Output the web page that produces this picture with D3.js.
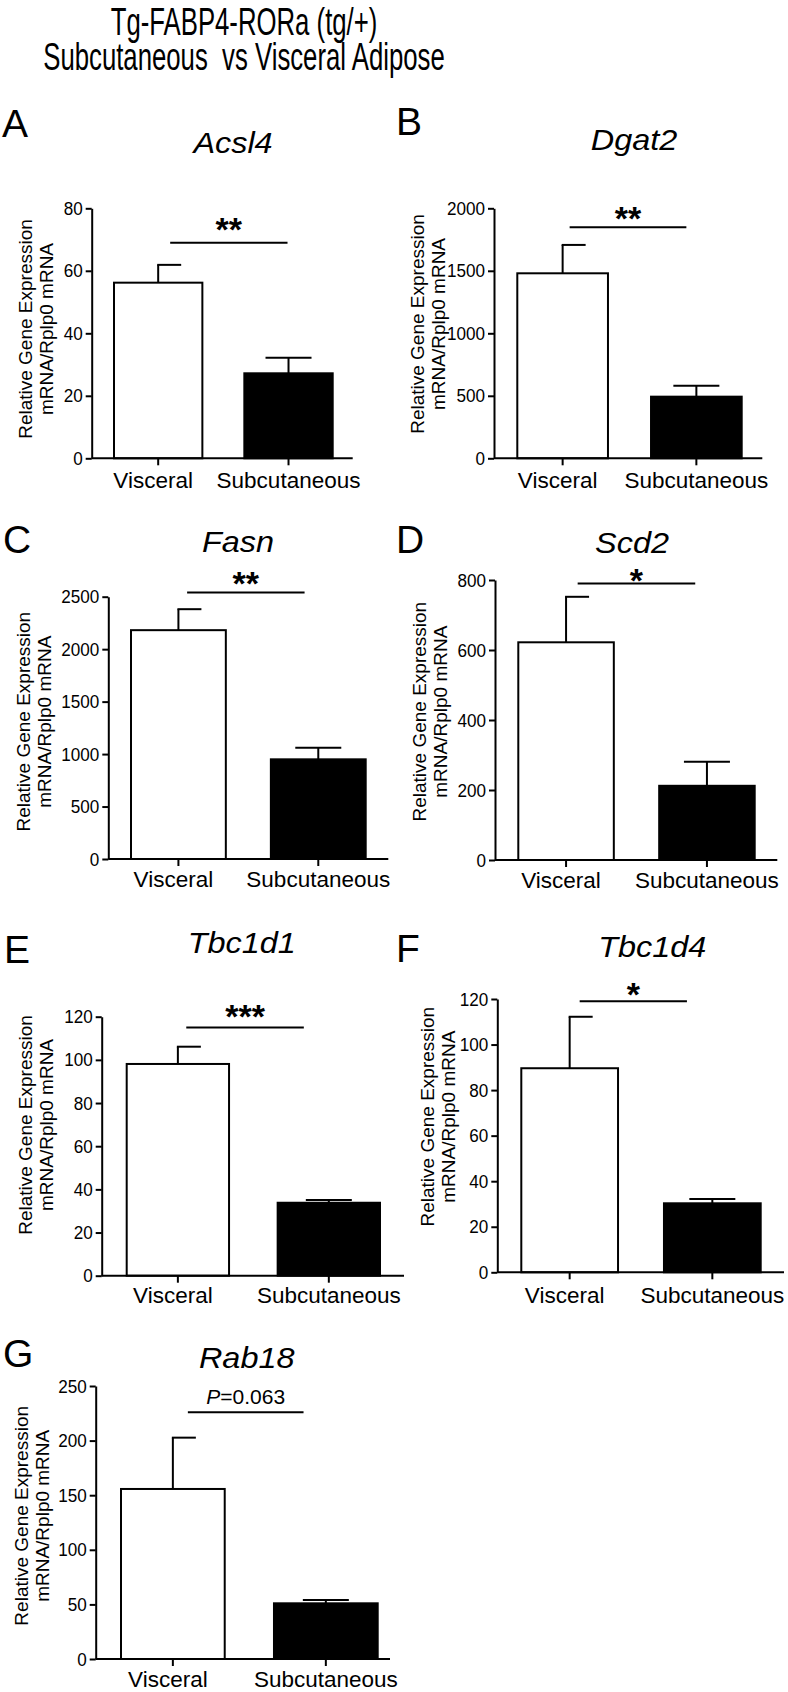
<!DOCTYPE html>
<html><head><meta charset="utf-8">
<script src="https://cdn.jsdelivr.net/npm/d3@7"></script>
<style>
body{margin:0;background:#fff;}
svg{display:block;}
text{font-family:"Liberation Sans",Arial,Helvetica,sans-serif;fill:#000;}
text.title{white-space:pre;}
</style></head><body>
<svg id="fig" width="788" height="1692"></svg>
<script>
// ---------------- data ----------------
const titleLines = ["Tg-FABP4-RORa (tg/+)", "Subcutaneous  vs Visceral Adipose"];
const panelLetters = ["A","B","C","D","E","F","G"];
const genes = ["Acsl4","Dgat2","Fasn","Scd2","Tbc1d1","Tbc1d4","Rab18"];
const groups = ["Visceral","Subcutaneous"];
const visceralMean = [56.2, 1480, 2181, 622, 98.1, 89.6, 155.7];
const visceralErr  = [5.7, 227, 200, 130, 8.0, 22.6, 47];
const subcutMean   = [27.2, 493, 950, 212, 33.8, 30.3, 51];
const subcutErr    = [5.0, 88, 110, 69, 1.3, 1.9, 3];
const yMax  = [80, 2000, 2500, 800, 120, 120, 250];
const yStep = [20, 500, 500, 200, 20, 20, 50];
const sigLabels = ["**","**","**","*","***","*","P=0.063"];
const sigLevel  = [69, 1848, 2540, 790, 115, 119, 226];
const yLabelLines = ["Relative Gene Expression","mRNA/Rplp0 mRNA"];

// ---------------- layout (pixels) ----------------
const layout = [
 {ax:91.7, axEnd:352.7, b0:114,   b1:332.7, yT:208.3, yB:458.3, s0:12,  s1:-1,  lx:2,   ly:136.7, tx:233,   ty:153,   ylx:31.7,  yly:329,    xlb:488,   sdy:-1.2},
 {ax:494,  axEnd:762.3, b0:517.3, b1:741.7, yT:208.3, yB:458.3, s0:7,   s1:-10, lx:396, ly:135,   tx:634,   ty:150,   ylx:423.5, yly:324,    xlb:488,   sdy:2.5},
 {ax:108.3,axEnd:388.3, b0:131,   b1:365.7, yT:596.7, yB:859,   s0:8.7, s1:-13.7,lx:3,  ly:553,   tx:238,   ty:551.7, ylx:29.5,  yly:721.7,  xlb:886.7, sdy:2.5},
 {ax:495,  axEnd:777.3, b0:518.3, b1:754.7, yT:580,   yB:860,   s0:11.6,s1:-11.7,lx:396,ly:553,   tx:632,   ty:553,   ylx:425.5, yly:711.7,  xlb:888,   sdy:8.5},
 {ax:101.7,axEnd:404,   b0:126.7, b1:380,   yT:1016.7,yB:1275.7,s0:8.4, s1:-25, lx:4,   ly:963,   tx:241.7, ty:953.3, ylx:31.5,  yly:1125,   xlb:1303.3,sdy:0.5},
 {ax:497.3,axEnd:784,   b0:521.3, b1:760.7, yT:999,   yB:1272.3,s0:10,  s1:-25.4,lx:396,ly:961.7, tx:652.3, ty:956.7, ylx:434,   yly:1116.7, xlb:1303.3,sdy:4.8},
 {ax:95.7, axEnd:390,   b0:121,   b1:377.7, yT:1386,  yB:1659,  s0:15,  s1:-22.3,lx:3,  ly:1366.7,tx:246.7, ty:1368.3,ylx:28,    yly:1515.8, xlb:1686.7,sdy:-8}
];

const svg = d3.select("#fig");

// title
svg.selectAll("text.title").data(titleLines).join("text")
  .attr("class","title")
  .attr("xml:space","preserve")
  .attr("transform",(d,i)=>`translate(244,${35+i*35}) scale(0.66,1)`)
  .attr("text-anchor","middle")
  .attr("font-size",39)
  .text(d=>d);

genes.forEach((gene,i)=>{
  const L = layout[i];
  const g = svg.append("g");
  const y = d3.scaleLinear().domain([0,yMax[i]]).range([L.yB,L.yT]);
  const x = d3.scaleBand().domain(groups).range([L.b0,L.b1]).paddingInner(0.322).paddingOuter(0);
  const bw = x.bandwidth();
  const means = [visceralMean[i], subcutMean[i]];
  const errs = [visceralErr[i], subcutErr[i]];
  const rows = groups.map((grp,k)=>({grp, mean:means[k], err:errs[k], k}));

  // panel letter
  g.append("text").attr("x",L.lx).attr("y",L.ly).attr("font-size",39).text(panelLetters[i]);
  // gene title
  g.append("text")
    .attr("transform",`translate(${L.tx},${L.ty}) scale(1.08,1)`)
    .attr("text-anchor","middle").attr("font-size",30).attr("font-style","italic")
    .text(gene);

  // y axis label
  yLabelLines.forEach((t,j)=>{
    g.append("text")
      .attr("transform",`translate(${L.ylx + j*21},${L.yly}) rotate(-90)`)
      .attr("text-anchor","middle").attr("font-size",19)
      .text(t);
  });

  // bars
  g.selectAll("rect.bar").data(rows).join("rect")
    .attr("x",d=>x(d.grp)).attr("width",bw)
    .attr("y",d=>y(d.mean)).attr("height",d=>y(0)-y(d.mean))
    .attr("fill",d=>d.k===0?"#fff":"#000")
    .attr("stroke","#000").attr("stroke-width",2);

  // error bars (upward)
  const cap = 23;
  g.selectAll("line.err").data(rows).join("line")
    .attr("x1",d=>x(d.grp)+bw/2).attr("x2",d=>x(d.grp)+bw/2)
    .attr("y1",d=>y(d.mean)).attr("y2",d=>y(d.mean+d.err))
    .attr("stroke","#000").attr("stroke-width",2);
  g.selectAll("line.cap").data(rows).join("line")
    .attr("x1",d=>x(d.grp)+bw/2-(d.k===0?1:cap)).attr("x2",d=>x(d.grp)+bw/2+cap)
    .attr("y1",d=>y(d.mean+d.err)).attr("y2",d=>y(d.mean+d.err))
    .attr("stroke","#000").attr("stroke-width",2);

  // y axis
  const ts = 0.9;
  const yAxis = d3.axisLeft(y).tickValues(d3.range(0,yMax[i]+yStep[i]/2,yStep[i]))
    .tickSize(6).tickSizeOuter(0).tickPadding(3).tickFormat(d3.format("d"));
  const gy = g.append("g").attr("transform",`translate(${L.ax},0)`).call(yAxis);
  gy.select(".domain").attr("stroke-width",2);
  gy.selectAll(".tick line").attr("stroke-width",2);
  gy.selectAll(".tick text").attr("font-size",19).attr("fill","#000")
    .attr("font-family",'"Liberation Sans",Arial,sans-serif')
    .attr("x",-9/ts).attr("transform",`scale(${ts},1)`);

  // x axis
  const xAxis = d3.axisBottom(x).tickSize(7).tickSizeOuter(0).tickPadding(0);
  const gx = g.append("g").attr("transform",`translate(0,${L.yB})`).call(xAxis);
  gx.select(".domain").attr("d",`M${L.ax},0H${L.axEnd}`).attr("stroke-width",2);
  gx.selectAll(".tick line").attr("stroke-width",2);
  gx.selectAll(".tick text").attr("font-size",22.5).attr("fill","#000")
    .attr("font-family",'"Liberation Sans",Arial,sans-serif')
    .attr("dy",null).attr("y",L.xlb-L.yB)
    .attr("x",d=>d===groups[0]?-5:0);

  // significance
  const sx0 = x(groups[0])+bw/2+L.s0, sx1 = x(groups[1])+bw/2+L.s1;
  const sy = y(sigLevel[i]);
  g.append("line").attr("x1",sx0).attr("x2",sx1).attr("y1",sy).attr("y2",sy)
    .attr("stroke","#000").attr("stroke-width",2);
  const lab = sigLabels[i];
  const st = g.append("text").attr("x",(sx0+sx1)/2).attr("text-anchor","middle");
  if (lab.startsWith("P=")) {
    st.attr("y",sy+L.sdy).attr("font-size",21);
    st.append("tspan").attr("font-style","italic").text("P");
    st.append("tspan").text(lab.slice(1));
  } else {
    st.attr("y",sy+L.sdy).attr("font-size",34).attr("font-weight","bold").text(lab);
  }
});
</script>
</body></html>
